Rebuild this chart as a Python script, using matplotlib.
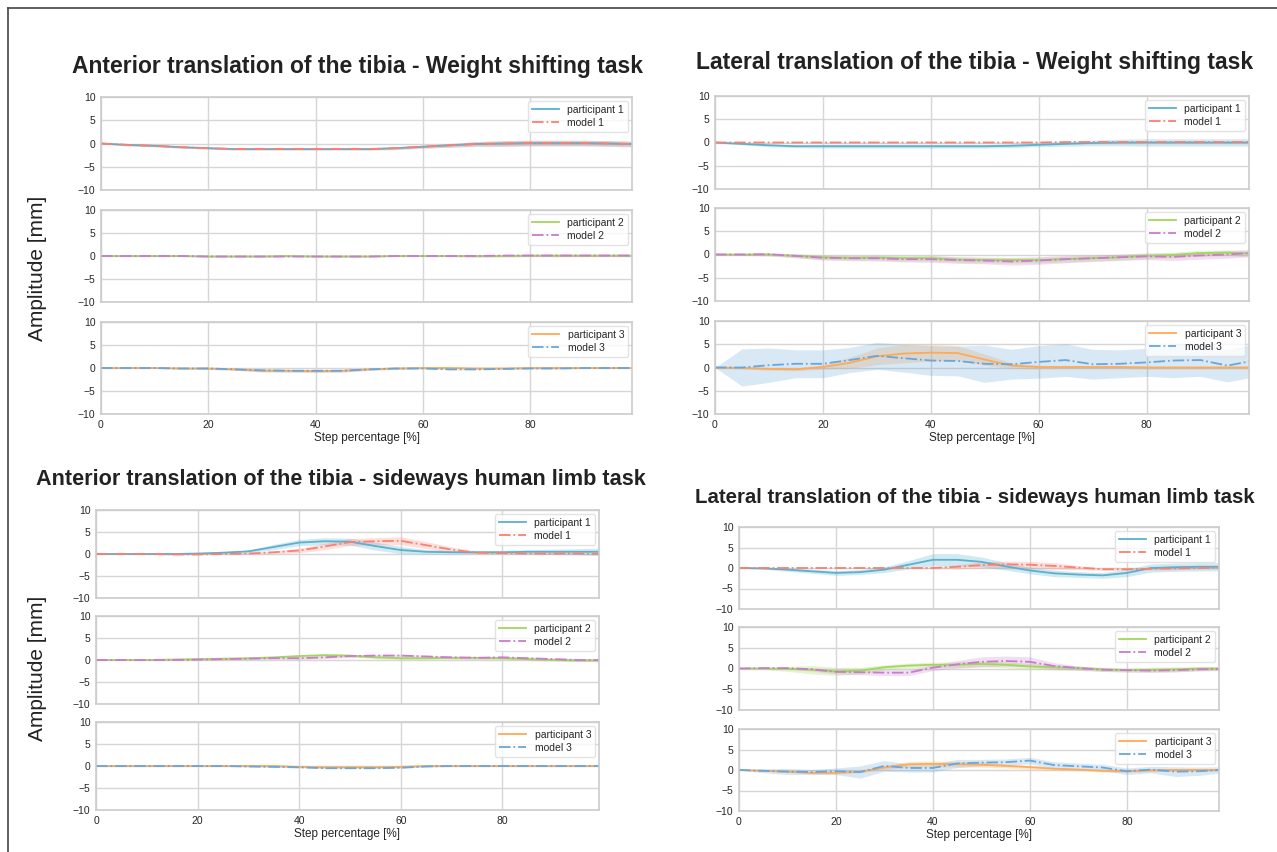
import numpy as np
import matplotlib
matplotlib.use('Agg')
import matplotlib.pyplot as plt
from matplotlib.lines import Line2D

# step percentage samples
steps = [0, 5, 10, 15, 20, 25, 30, 35, 40, 45, 50, 55, 60, 65, 70, 75, 80, 85, 90, 95, 99]

# --- anterior translation, weight shifting task
ant_ws_p1 = [0, -0.3, -0.5, -0.8, -1.0, -1.2, -1.2, -1.2, -1.2, -1.2, -1.2, -1.0, -0.7, -0.4, -0.1, 0.0, 0.1, 0.1, 0.1, 0.0, -0.1]
ant_ws_p1_sd = [0.1, 0.2, 0.2, 0.2, 0.2, 0.2, 0.2, 0.2, 0.2, 0.2, 0.2, 0.3, 0.3, 0.4, 0.5, 0.6, 0.6, 0.6, 0.6, 0.6, 0.6]
ant_ws_m1 = [0, -0.3, -0.5, -0.8, -1.0, -1.2, -1.2, -1.2, -1.2, -1.2, -1.2, -1.0, -0.7, -0.4, -0.1, 0.0, 0.1, 0.1, 0.1, 0.0, -0.1]
ant_ws_m1_sd = [0.1, 0.2, 0.2, 0.2, 0.2, 0.2, 0.2, 0.2, 0.2, 0.2, 0.2, 0.3, 0.3, 0.4, 0.5, 0.6, 0.6, 0.6, 0.6, 0.6, 0.6]
ant_ws_p2 = [0, 0, 0, 0, -0.1, -0.1, -0.1, 0, -0.1, -0.1, -0.1, 0, 0, 0, 0, 0, 0.1, 0.1, 0.1, 0.1, 0.1]
ant_ws_p2_sd = [0.1, 0.1, 0.1, 0.1, 0.1, 0.1, 0.1, 0.1, 0.1, 0.1, 0.1, 0.1, 0.1, 0.1, 0.2, 0.2, 0.2, 0.2, 0.2, 0.2, 0.2]
ant_ws_m2 = [0, 0, 0, 0, -0.1, -0.1, -0.1, -0.1, -0.1, -0.1, -0.1, 0, 0, 0, 0, 0.1, 0.1, 0.1, 0.1, 0.1, 0.1]
ant_ws_m2_sd = [0.1, 0.1, 0.1, 0.1, 0.1, 0.1, 0.1, 0.1, 0.1, 0.1, 0.1, 0.1, 0.1, 0.1, 0.2, 0.2, 0.2, 0.2, 0.2, 0.2, 0.2]
ant_ws_p3 = [0, 0, 0, -0.1, -0.1, -0.3, -0.6, -0.6, -0.7, -0.6, -0.3, -0.1, 0, 0, -0.1, -0.1, 0, 0, 0, 0, 0]
ant_ws_p3_sd = [0.1, 0.1, 0.1, 0.1, 0.2, 0.2, 0.3, 0.3, 0.3, 0.3, 0.2, 0.2, 0.1, 0.1, 0.1, 0.1, 0.1, 0.1, 0.1, 0.1, 0.1]
ant_ws_m3 = [0, 0, 0, -0.1, -0.1, -0.3, -0.5, -0.6, -0.6, -0.6, -0.3, -0.1, -0.1, -0.3, -0.3, -0.2, -0.1, -0.1, 0, 0, 0]
ant_ws_m3_sd = [0.1, 0.1, 0.1, 0.1, 0.2, 0.2, 0.3, 0.3, 0.3, 0.3, 0.2, 0.2, 0.1, 0.1, 0.1, 0.1, 0.1, 0.1, 0.1, 0.1, 0.1]

# --- lateral translation, weight shifting task
lat_ws_p1 = [0, -0.3, -0.6, -0.8, -0.8, -0.8, -0.8, -0.8, -0.8, -0.8, -0.8, -0.7, -0.5, -0.3, -0.1, 0, 0, 0, 0, 0, 0]
lat_ws_p1_sd = [0.1, 0.2, 0.3, 0.3, 0.4, 0.4, 0.4, 0.4, 0.4, 0.4, 0.4, 0.4, 0.4, 0.5, 0.6, 0.7, 0.8, 0.8, 0.8, 0.8, 0.8]
lat_ws_m1 = [0, 0, 0, 0, 0, 0, 0, 0, 0, 0, 0, 0, 0, 0.1, 0.1, 0.1, 0.1, 0.1, 0.1, 0.1, 0.1]
lat_ws_m1_sd = [0.05, 0.05, 0.05, 0.05, 0.05, 0.05, 0.05, 0.05, 0.05, 0.05, 0.05, 0.05, 0.05, 0.05, 0.05, 0.05, 0.05, 0.05, 0.05, 0.05, 0.05]
lat_ws_p2 = [0, 0, 0, -0.3, -0.6, -0.7, -0.7, -0.8, -0.8, -1.1, -1.2, -1.2, -1.2, -1.0, -0.8, -0.6, -0.3, -0.1, 0.3, 0.4, 0.2]
lat_ws_p2_sd = [0.1, 0.2, 0.3, 0.4, 0.5, 0.5, 0.5, 0.6, 0.6, 0.6, 0.6, 0.6, 0.6, 0.6, 0.6, 0.6, 0.6, 0.6, 0.6, 0.6, 0.6]
lat_ws_m2 = [0, 0, 0.05, -0.3, -0.7, -0.8, -0.8, -1.0, -1.0, -1.2, -1.3, -1.5, -1.3, -1.0, -0.8, -0.6, -0.4, -0.5, -0.2, 0, 0.3]
lat_ws_m2_sd = [0.1, 0.2, 0.3, 0.4, 0.5, 0.5, 0.6, 0.6, 0.7, 0.7, 0.7, 0.8, 0.8, 0.8, 0.7, 0.7, 0.7, 0.8, 0.8, 0.8, 0.8]
lat_ws_p3 = [0, -0.1, -0.3, -0.4, 0.1, 1.0, 2.4, 3.0, 3.2, 3.1, 1.7, 0.4, 0.1, 0.1, 0.1, 0.1, 0.0, 0, 0, 0, 0]
lat_ws_p3_sd = [0.1, 0.2, 0.3, 0.3, 0.5, 1.2, 1.8, 2.0, 1.8, 1.6, 1.2, 0.6, 0.4, 0.3, 0.3, 0.3, 0.3, 0.3, 0.3, 0.3, 0.3]
lat_ws_m3 = [0, 0, 0.5, 0.8, 0.8, 1.6, 2.5, 2.0, 1.5, 1.4, 0.8, 0.7, 1.2, 1.6, 0.7, 0.8, 1.1, 1.5, 1.6, 0.4, 1.3]
lat_ws_m3_sd = [0, 4.0, 3.7, 3.0, 3.0, 2.7, 2.9, 3.0, 3.2, 3.2, 4.0, 3.2, 3.5, 3.5, 3.2, 3.0, 3.0, 3.7, 3.5, 3.5, 3.5]

# --- anterior translation, sideways human limb task
ant_sw_p1 = [0, 0, 0, 0, 0.1, 0.3, 0.6, 1.6, 2.6, 2.9, 2.8, 1.8, 0.9, 0.5, 0.4, 0.4, 0.4, 0.5, 0.5, 0.5, 0.5]
ant_sw_p1_sd = [0, 0, 0, 0, 0.1, 0.2, 0.3, 0.6, 0.7, 0.8, 0.8, 0.9, 0.8, 0.5, 0.4, 0.3, 0.4, 0.5, 0.6, 0.7, 0.8]
ant_sw_m1 = [0, 0, 0, -0.1, -0.1, 0, 0.1, 0.4, 0.8, 1.7, 2.7, 2.9, 3.0, 2.0, 1.0, 0.3, 0.2, 0.1, 0.1, 0.1, 0.0]
ant_sw_m1_sd = [0, 0, 0, 0.1, 0.1, 0.1, 0.2, 0.3, 0.5, 0.7, 0.8, 0.8, 0.9, 0.8, 0.6, 0.3, 0.2, 0.2, 0.2, 0.2, 0.2]
ant_sw_p2 = [0, 0, 0, 0.1, 0.2, 0.3, 0.4, 0.6, 0.9, 1.1, 1.0, 0.6, 0.4, 0.4, 0.5, 0.5, 0.4, 0.2, 0, -0.1, -0.1]
ant_sw_p2_sd = [0.1, 0.1, 0.1, 0.1, 0.2, 0.2, 0.2, 0.2, 0.3, 0.3, 0.3, 0.3, 0.3, 0.3, 0.3, 0.3, 0.3, 0.3, 0.3, 0.3, 0.3]
ant_sw_m2 = [0, 0, 0, 0, 0.1, 0.2, 0.3, 0.4, 0.4, 0.6, 0.9, 1.0, 1.0, 0.8, 0.6, 0.5, 0.6, 0.4, 0.2, 0, 0]
ant_sw_m2_sd = [0.1, 0.1, 0.1, 0.1, 0.2, 0.2, 0.2, 0.2, 0.3, 0.3, 0.3, 0.3, 0.3, 0.3, 0.3, 0.3, 0.3, 0.3, 0.3, 0.3, 0.3]
ant_sw_p3 = [0, 0, 0, 0, 0, 0, 0, 0, -0.2, -0.3, -0.3, -0.3, -0.2, 0, 0, 0, 0, 0, 0, 0, 0]
ant_sw_p3_sd = [0.05, 0.05, 0.05, 0.05, 0.05, 0.05, 0.1, 0.1, 0.1, 0.1, 0.1, 0.1, 0.1, 0.1, 0.05, 0.05, 0.05, 0.05, 0.05, 0.05, 0.05]
ant_sw_m3 = [0, 0, 0, 0, 0, 0, -0.1, -0.2, -0.3, -0.5, -0.5, -0.5, -0.4, -0.1, 0, 0, 0, 0, 0, 0, 0]
ant_sw_m3_sd = [0.05, 0.05, 0.05, 0.05, 0.05, 0.05, 0.1, 0.1, 0.1, 0.1, 0.1, 0.1, 0.1, 0.1, 0.05, 0.05, 0.05, 0.05, 0.05, 0.05, 0.05]

# --- lateral translation, sideways human limb task
lat_sw_p1 = [0, -0.1, -0.4, -0.8, -1.2, -1.0, -0.4, 0.8, 2.0, 2.0, 1.5, 0.4, -0.6, -1.3, -1.6, -1.8, -1.2, 0.0, 0.2, 0.3, 0.3]
lat_sw_p1_sd = [0, 0.2, 0.4, 0.5, 0.6, 0.6, 0.7, 1.0, 1.5, 1.5, 1.2, 0.9, 0.8, 0.8, 0.7, 0.7, 0.9, 1.0, 1.0, 1.0, 1.0]
lat_sw_m1 = [0, 0, 0, 0, 0, 0, 0, 0, 0, 0.3, 0.7, 0.9, 0.8, 0.5, 0.1, -0.3, -0.3, -0.2, -0.1, 0, 0.1]
lat_sw_m1_sd = [0, 0, 0, 0, 0, 0.1, 0.1, 0.1, 0.2, 0.5, 0.8, 0.8, 0.8, 0.8, 0.5, 0.3, 0.3, 0.3, 0.3, 0.2, 0.2]
lat_sw_p2 = [0, 0, -0.1, -0.3, -0.7, -0.5, 0.3, 0.7, 0.9, 0.9, 1.1, 0.9, 0.5, 0.3, 0.1, -0.2, -0.4, -0.3, -0.2, 0, 0]
lat_sw_p2_sd = [0, 0.2, 0.6, 1.0, 1.0, 0.8, 0.6, 0.6, 0.6, 0.7, 0.7, 0.7, 0.7, 0.6, 0.5, 0.5, 0.5, 0.6, 0.6, 0.5, 0.5]
lat_sw_m2 = [0, 0.1, 0.1, -0.2, -0.8, -0.9, -1.0, -1.0, 0.2, 1.0, 1.6, 1.8, 1.6, 0.6, 0.1, -0.3, -0.4, -0.5, -0.4, -0.2, -0.1]
lat_sw_m2_sd = [0, 0.1, 0.2, 0.4, 0.5, 0.6, 0.7, 0.7, 0.7, 0.9, 1.2, 1.2, 1.2, 0.8, 0.5, 0.4, 0.4, 0.4, 0.4, 0.4, 0.4]
lat_sw_p3 = [0, -0.2, -0.4, -0.7, -0.7, -0.4, 0.6, 1.4, 1.5, 1.4, 1.3, 1.0, 0.7, 0.3, 0.1, -0.2, -0.3, -0.1, 0, 0, 0]
lat_sw_p3_sd = [0, 0.1, 0.2, 0.3, 0.3, 0.3, 0.5, 0.7, 0.7, 0.7, 0.6, 0.5, 0.5, 0.4, 0.3, 0.3, 0.3, 0.3, 0.3, 0.3, 0.3]
lat_sw_m3 = [0, -0.2, -0.4, -0.5, -0.3, -0.5, 1.0, 0.5, 0.5, 1.6, 1.8, 1.9, 2.3, 1.2, 0.9, 0.6, -0.3, 0.1, -0.4, -0.3, 0]
lat_sw_m3_sd = [0, 0.5, 0.7, 0.6, 0.8, 1.5, 1.3, 1.0, 1.0, 1.0, 0.8, 0.8, 0.8, 0.8, 0.8, 0.8, 0.8, 0.8, 1.2, 1.0, 0.8]

yticks = [-10, -5, 0, 5, 10]
xticks = [0, 20, 40, 60, 80]

part_colors = ['#5ab0cd', '#a3d65c', '#ffaa55']
model_colors = ['#fa8072', '#c97ccb', '#6aa6d9']

plt.rcParams['font.family'] = ['Liberation Sans', 'DejaVu Sans']
plt.rcParams['text.color'] = '.15'
plt.rcParams['axes.labelcolor'] = '.15'
plt.rcParams['xtick.color'] = '.15'
plt.rcParams['ytick.color'] = '.15'

W, H = 1277, 852
fig = plt.figure(figsize=(W / 100, H / 100), dpi=100)


def add_ax(x0, y0, x1, y1):
    return fig.add_axes([x0 / W, 1 - y1 / H, (x1 - x0) / W, (y1 - y0) / H])


def draw_panel(title, tpos, tsize, xr, rows, data):
    for i, (y0, y1) in enumerate(rows):
        ax = add_ax(xr[0], y0, xr[1], y1)
        p, psd, m, msd = map(np.array, data[i])
        x = np.array(steps)
        ax.fill_between(x, p - psd, p + psd, color=part_colors[i], alpha=0.28, lw=0)
        ax.fill_between(x, m - msd, m + msd, color=model_colors[i], alpha=0.25, lw=0)
        ax.plot(x, p, color=part_colors[i], lw=1.3, label='participant %d' % (i + 1))
        ax.plot(x, m, color=model_colors[i], lw=1.3, ls='-.', label='model %d' % (i + 1))
        ax.set_xlim(0, 99)
        ax.set_ylim(-10, 10)
        ax.set_yticks(yticks)
        ax.set_xticks(xticks)
        ax.grid(True, color='#d6d6d6', lw=1)
        ax.set_axisbelow(True)
        for s in ax.spines.values():
            s.set_color('#cccccc')
            s.set_linewidth(1.2)
        ax.tick_params(length=0, labelsize=7.5, pad=4)
        if i < 2:
            ax.set_xticklabels([])
        else:
            ax.set_xlabel('Step percentage [%]', fontsize=8.5, labelpad=2)
        leg = ax.legend(loc='upper right', fontsize=7.5, frameon=True,
                        borderaxespad=0.35, handlelength=2.6, labelspacing=0.3)
        leg.get_frame().set_edgecolor('#dddddd')
    fig.text(tpos[0] / W, 1 - tpos[1] / H, title, ha='center', va='center',
             fontsize=tsize, fontweight='bold', color='#222222')


draw_panel('Anterior translation of the tibia - Weight shifting task', (357, 67), 16.5,
           (101, 632), [(97, 190), (210, 302), (322, 414)],
           [(ant_ws_p1, ant_ws_p1_sd, ant_ws_m1, ant_ws_m1_sd),
            (ant_ws_p2, ant_ws_p2_sd, ant_ws_m2, ant_ws_m2_sd),
            (ant_ws_p3, ant_ws_p3_sd, ant_ws_m3, ant_ws_m3_sd)])

draw_panel('Lateral translation of the tibia - Weight shifting task', (975, 63), 16.5,
           (715, 1249), [(96, 189), (208, 301), (321, 414)],
           [(lat_ws_p1, lat_ws_p1_sd, lat_ws_m1, lat_ws_m1_sd),
            (lat_ws_p2, lat_ws_p2_sd, lat_ws_m2, lat_ws_m2_sd),
            (lat_ws_p3, lat_ws_p3_sd, lat_ws_m3, lat_ws_m3_sd)])

draw_panel('Anterior translation of the tibia - sideways human limb task', (341, 480), 15.6,
           (96, 599), [(510, 598), (616, 704), (722, 810)],
           [(ant_sw_p1, ant_sw_p1_sd, ant_sw_m1, ant_sw_m1_sd),
            (ant_sw_p2, ant_sw_p2_sd, ant_sw_m2, ant_sw_m2_sd),
            (ant_sw_p3, ant_sw_p3_sd, ant_sw_m3, ant_sw_m3_sd)])

draw_panel('Lateral translation of the tibia - sideways human limb task', (975, 497), 14.7,
           (739, 1219), [(527, 609), (627, 710), (729, 811)],
           [(lat_sw_p1, lat_sw_p1_sd, lat_sw_m1, lat_sw_m1_sd),
            (lat_sw_p2, lat_sw_p2_sd, lat_sw_m2, lat_sw_m2_sd),
            (lat_sw_p3, lat_sw_p3_sd, lat_sw_m3, lat_sw_m3_sd)])

for yc in (268, 668):
    fig.text(38 / W, 1 - yc / H, 'Amplitude [mm]', rotation=90, ha='center', va='center',
             fontsize=15, color='#222222')

# frame around the figure (left and top edges)
fig.add_artist(Line2D([8 / W, 8 / W], [0, 1 - 8 / H], transform=fig.transFigure, color='#444444', lw=1.2))
fig.add_artist(Line2D([8 / W, 1], [1 - 8 / H, 1 - 8 / H], transform=fig.transFigure, color='#444444', lw=1.2))

fig.savefig('out.png', dpi=100)
